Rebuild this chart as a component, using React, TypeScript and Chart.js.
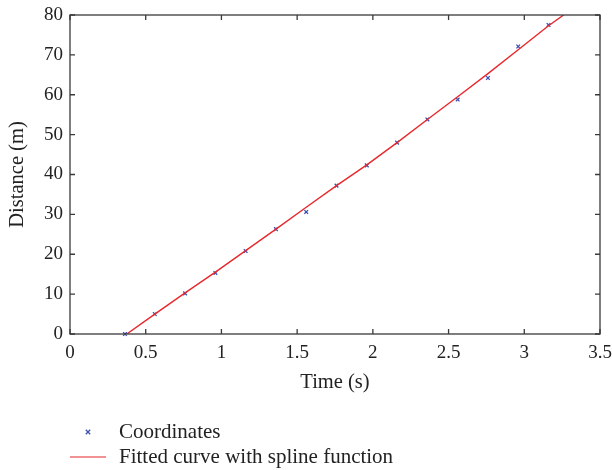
import React, { useEffect, useRef } from "react";
import { Chart, registerables } from "chart.js";

Chart.register(...registerables);

const pointTimes = [0.363, 0.56, 0.76, 0.96, 1.16, 1.36, 1.56, 1.76, 1.96, 2.16, 2.36, 2.56, 2.76, 2.96, 3.16];
const pointDistances = [0, 5.0, 10.2, 15.3, 20.8, 26.3, 30.6, 37.2, 42.3, 48.0, 53.8, 58.8, 64.2, 72.1, 77.5];

const fitTimes = [0.375, 0.56, 0.76, 0.96, 1.16, 1.36, 1.56, 1.76, 1.96, 2.16, 2.36, 2.56, 2.76, 2.96, 3.16, 3.26];
const fitDistances = [0, 5.0, 10.3, 15.5, 20.9, 26.3, 31.8, 37.2, 42.4, 48.0, 53.8, 59.5, 65.3, 71.3, 77.3, 80];

const xTicks = [0, 0.5, 1, 1.5, 2, 2.5, 3, 3.5];
const yTicks = [0, 10, 20, 30, 40, 50, 60, 70, 80];

const legendLabels = ["Coordinates", "Fitted curve with spline function"];

const FONT = "'Liberation Serif', 'DejaVu Serif', serif";
const AXIS_COLOR = "#3a3a3a";
const POINT_COLOR = "#3b4fb0";
const LINE_COLOR = "#e8272b";

const framePlugin = {
  id: "frame",
  afterDraw(chart: any) {
    const { ctx, chartArea } = chart;
    const { left, right, top, bottom } = chartArea;
    const xs = chart.scales.x;
    const ys = chart.scales.y;
    ctx.save();
    ctx.strokeStyle = AXIS_COLOR;
    ctx.lineWidth = 1.3;
    ctx.strokeRect(left, top, right - left, bottom - top);
    const tl = 5;
    ctx.beginPath();
    xTicks.forEach((v) => {
      const px = xs.getPixelForValue(v);
      ctx.moveTo(px, bottom);
      ctx.lineTo(px, bottom - tl);
      ctx.moveTo(px, top);
      ctx.lineTo(px, top + tl);
    });
    yTicks.forEach((v) => {
      const py = ys.getPixelForValue(v);
      ctx.moveTo(left, py);
      ctx.lineTo(left + tl, py);
      ctx.moveTo(right, py);
      ctx.lineTo(right - tl, py);
    });
    ctx.stroke();

    // legend
    const y1 = 432;
    const y2 = 457;
    const mx = 88;
    ctx.strokeStyle = POINT_COLOR;
    ctx.lineWidth = 1.3;
    ctx.beginPath();
    ctx.moveTo(mx - 2.2, y1 - 2.2);
    ctx.lineTo(mx + 2.2, y1 + 2.2);
    ctx.moveTo(mx + 2.2, y1 - 2.2);
    ctx.lineTo(mx - 2.2, y1 + 2.2);
    ctx.stroke();
    ctx.strokeStyle = LINE_COLOR;
    ctx.lineWidth = 1.2;
    ctx.beginPath();
    ctx.moveTo(70, y2);
    ctx.lineTo(106, y2);
    ctx.stroke();
    ctx.fillStyle = "#222";
    ctx.font = "21px " + FONT;
    ctx.textBaseline = "middle";
    ctx.textAlign = "left";
    ctx.fillText(legendLabels[0], 119, y1);
    ctx.fillText(legendLabels[1], 119, y2);
    ctx.restore();
  },
};

export default function App() {
  const ref = useRef<HTMLCanvasElement>(null);
  useEffect(() => {
    if (!ref.current) return;
    const chart = new Chart(ref.current, {
      type: "scatter",
      data: {
        datasets: [
          {
            label: legendLabels[1],
            type: "line",
            data: fitTimes.map((x, i) => ({ x, y: fitDistances[i] })),
            borderColor: LINE_COLOR,
            borderWidth: 1.4,
            pointRadius: 0,
            fill: false,
            tension: 0,
          },
          {
            label: legendLabels[0],
            data: pointTimes.map((x, i) => ({ x, y: pointDistances[i] })),
            pointStyle: "crossRot",
            pointRadius: 2.6,
            borderColor: POINT_COLOR,
            backgroundColor: POINT_COLOR,
            borderWidth: 1.3,
            clip: false,
          } as any,
        ],
      },
      options: {
        animation: false,
        responsive: false,
        devicePixelRatio: 1,
        layout: { padding: { left: 0, top: 15, right: 12, bottom: 70 } },
        plugins: { legend: { display: false }, tooltip: { enabled: false } },
        scales: {
          x: {
            type: "linear",
            min: 0,
            max: 3.5,
            afterBuildTicks: (s: any) => {
              s.ticks = xTicks.map((v) => ({ value: v }));
            },
            afterFit: (s: any) => {
              s.height = 66;
              s.paddingRight = 0;
              s.paddingLeft = 0;
            },
            border: { display: false },
            grid: { display: false, drawTicks: false },
            ticks: {
              color: "#222",
              font: { family: FONT, size: 19 },
              padding: 8,
              maxRotation: 0,
              callback: (v: any) => String(v),
            },
            title: {
              display: true,
              text: "Time (s)",
              color: "#222",
              font: { family: FONT, size: 20.5 },
              padding: { top: 0, bottom: 5 },
            },
          },
          y: {
            type: "linear",
            min: 0,
            max: 80,
            afterBuildTicks: (s: any) => {
              s.ticks = yTicks.map((v) => ({ value: v }));
            },
            afterFit: (s: any) => {
              s.width = 70;
              s.paddingTop = 0;
              s.paddingBottom = 0;
            },
            border: { display: false },
            grid: { display: false, drawTicks: false },
            ticks: {
              color: "#222",
              font: { family: FONT, size: 19 },
              padding: 7,
              callback: (v: any) => String(v),
            },
            title: {
              display: true,
              text: "Distance (m)",
              color: "#222",
              font: { family: FONT, size: 20.5 },
              padding: { top: 5, bottom: 0 },
            },
          },
        },
      },
      plugins: [framePlugin],
    });
    return () => chart.destroy();
  }, []);
  return (
    <div style={{ position: "absolute", left: 0, top: 0, width: 612, height: 470, background: "#fff" }}>
      <canvas ref={ref} width={612} height={470} style={{ width: 612, height: 470 }} />
    </div>
  );
}
